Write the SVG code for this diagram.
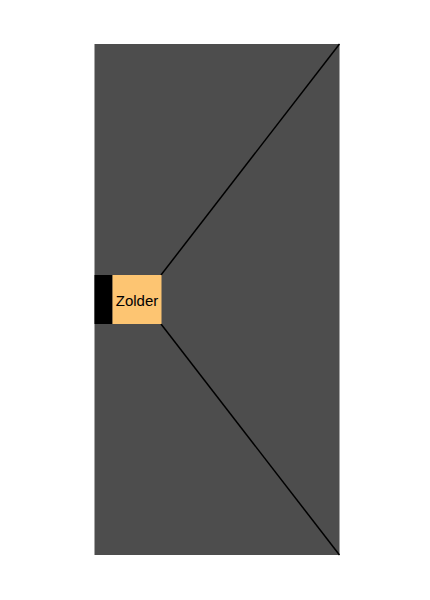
<svg xmlns="http://www.w3.org/2000/svg" width="430" height="600" viewBox="0 0 430 600">
<style>
.lbl{font-family:"Liberation Sans",Arial,sans-serif;font-size:15px;fill:#000}
.conn{stroke:#000;stroke-width:1.5;fill:none}
</style>
<rect width="430" height="600" fill="#fff"/>
<g id="background"><rect x="94.5" y="44" width="245" height="511" fill="#4d4d4d"/></g>
<g id="connectors">
<line class="conn" x1="161" y1="275" x2="339.5" y2="44"/>
<line class="conn" x1="161" y1="324" x2="339.5" y2="555"/>
</g>
<g id="zolder">
<rect x="94.5" y="275" width="18" height="49" fill="#000"/>
<rect x="112.5" y="275" width="49" height="49" fill="#fdc572"/>
<text class="lbl" x="137" y="306" text-anchor="middle">Zolder</text>
</g>
</svg>
